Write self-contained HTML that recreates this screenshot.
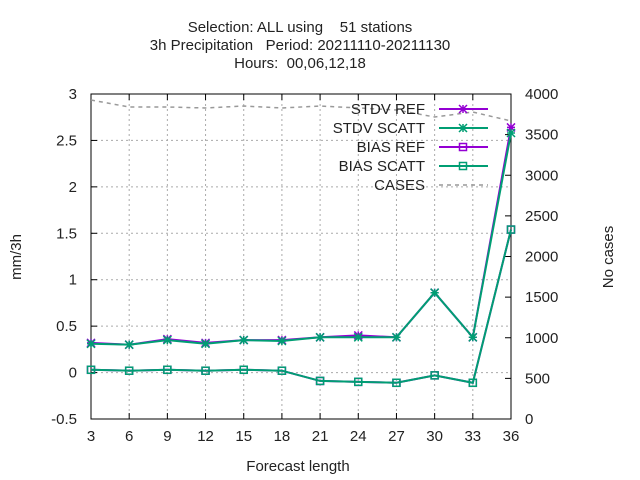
<!DOCTYPE html>
<html><head><meta charset="utf-8"><style>body{margin:0;background:#fff}svg{display:block}text{font-family:"Liberation Sans",sans-serif;font-size:15px;fill:#222;white-space:pre}</style></head>
<body>
<svg id="c" width="640" height="480"></svg>
<script>
const categories=[3,6,9,12,15,18,21,24,27,30,33,36];
const stdvRef=[0.32,0.30,0.36,0.32,0.35,0.35,0.38,0.40,0.38,0.86,0.38,2.64];
const stdvScatt=[0.31,0.30,0.35,0.31,0.35,0.34,0.38,0.38,0.38,0.86,0.38,2.58];
const biasRef=[0.03,0.02,0.03,0.02,0.03,0.02,-0.09,-0.10,-0.11,-0.03,-0.11,1.54];
const biasScatt=[0.03,0.02,0.03,0.02,0.03,0.02,-0.09,-0.10,-0.11,-0.03,-0.11,1.54];
const cases=[3926,3840,3840,3828,3852,3828,3852,3828,3803,3717,3778,3668];
const yTicks=[-0.5,0,0.5,1,1.5,2,2.5,3];
const yTickLabels=["-0.5","0","0.5","1","1.5","2","2.5","3"];
const y2Ticks=[0,500,1000,1500,2000,2500,3000,3500,4000];
const svg=document.getElementById('c');const NS='http://www.w3.org/2000/svg';
const L=91,R=511,T=94,B=419;
const x=v=>L+(v-3)/33*(R-L);
const y=v=>B-(v+0.5)/3.5*(B-T);
const y2=v=>B-v/4000*(B-T);
function el(t,a,txt){const e=document.createElementNS(NS,t);for(const k in a)e.setAttribute(k,a[k]);if(txt!==undefined)e.textContent=txt;svg.appendChild(e);return e;}
categories.forEach(c=>{if(c>3&&c<36){const g=el('line',{x1:x(c),x2:x(c),y1:T,y2:B,stroke:'#aaa','stroke-dasharray':'2,3'});}});
yTicks.forEach(v=>{if(v>-0.5&&v<3){const g=el('line',{x1:L,x2:R,y1:y(v),y2:y(v),stroke:'#aaa','stroke-dasharray':'2,3'});}});
const fr=el('rect',{x:L,y:T,width:R-L,height:B-T,fill:'none',stroke:'#000'});
categories.forEach(c=>{el('line',{x1:x(c),x2:x(c),y1:B,y2:B-6,stroke:'#000'});el('line',{x1:x(c),x2:x(c),y1:T,y2:T+6,stroke:'#000'});
const t=el('text',{x:x(c),y:B+22,'text-anchor':'middle'},c);});
yTicks.forEach((v,i)=>{el('line',{x1:L,x2:L+6,y1:y(v),y2:y(v),stroke:'#000'});const t=el('text',{x:L-14,y:y(v)+5,'text-anchor':'end'},yTickLabels[i]);});
y2Ticks.forEach(v=>{el('line',{x1:R,x2:R-6,y1:y2(v),y2:y2(v),stroke:'#000'});const t=el('text',{x:R+14,y:y2(v)+5,'text-anchor':'start'},v);});
function series(vals,fy,color,mark,name,dash){
 const p=el('polyline',{points:vals.map((v,i)=>x(categories[i])+','+fy(v)).join(' '),fill:'none',stroke:color,'stroke-width':dash?1.5:2,'stroke-dasharray':dash||''});
 
 if(mark)vals.forEach((v,i)=>{const cx=x(categories[i]),cy=fy(v);
  const m=mark==='star'?el('path',{d:`M${cx-4},${cy-4}L${cx+4},${cy+4}M${cx-4},${cy+4}L${cx+4},${cy-4}M${cx-4},${cy}L${cx+4},${cy}M${cx},${cy-4}L${cx},${cy+4}`,stroke:color,'stroke-width':1.5,fill:'none'}):el('rect',{x:cx-3.5,y:cy-3.5,width:7,height:7,fill:'none',stroke:color,'stroke-width':1.5});
  });
}
series(cases,y2,'#999',null,'cases','4,4');
series(stdvRef,y,'#9400d3','star','stdv-ref');
series(stdvScatt,y,'#009e73','star','stdv-scatt');
series(biasRef,y,'#9400d3','box','bias-ref');
series(biasScatt,y,'#009e73','box','bias-scatt');
const leg=[['STDV REF','#9400d3','star'],['STDV SCATT','#009e73','star'],['BIAS REF','#9400d3','box'],['BIAS SCATT','#009e73','box'],['CASES','#999',null]];
leg.forEach((l,i)=>{const ly=109+i*19;const t=el('text',{x:425,y:ly+5,'text-anchor':'end'},l[0]);
 const ln=el('line',{x1:439,x2:488,y1:ly,y2:ly,stroke:l[1],'stroke-width':l[2]?2:1.5,'stroke-dasharray':l[2]?'':'4,4'});
 const cx=463,cy=ly;if(l[2]==='star')el('path',{d:`M${cx-4},${cy-4}L${cx+4},${cy+4}M${cx-4},${cy+4}L${cx+4},${cy-4}M${cx-4},${cy}L${cx+4},${cy}M${cx},${cy-4}L${cx},${cy+4}`,stroke:l[1],'stroke-width':1.5});
 else if(l[2]==='box')el('rect',{x:cx-3.5,y:cy-3.5,width:7,height:7,fill:'none',stroke:l[1],'stroke-width':1.5});});
const titles=['Selection: ALL using    51 stations','3h Precipitation   Period: 20211110-20211130','Hours:  00,06,12,18'];
titles.forEach((s,i)=>{const t=el('text',{x:300,y:32+i*18,'text-anchor':'middle'},s);});
let t=el('text',{x:298,y:471,'text-anchor':'middle'},'Forecast length');
t=el('text',{x:0,y:0,'text-anchor':'middle',transform:'translate(21,257) rotate(-90)'},'mm/3h');
t=el('text',{x:0,y:0,'text-anchor':'middle',transform:'translate(613,257) rotate(-90)'},'No cases');
</script>
</body></html>
